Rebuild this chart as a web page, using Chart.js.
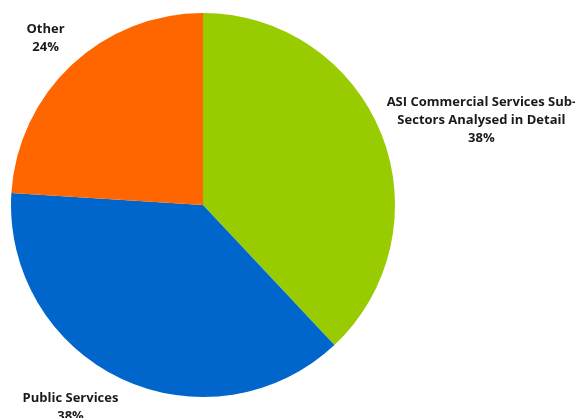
<!DOCTYPE html>
<html>
<head>
<meta charset="utf-8">
<script src="https://cdn.jsdelivr.net/npm/chart.js@4/dist/chart.umd.min.js"></script>
<style>
  html, body { margin: 0; padding: 0; background: #fff; }
  #wrap { width: 575px; height: 418px; position: relative; }
</style>
</head>
<body>
<div id="wrap"><canvas id="pie"></canvas></div>
<script>
'use strict';

const LABELS = [
  ['ASI Commercial Services Sub-', 'Sectors Analysed in Detail'],
  ['Public Services'],
  ['Other']
];
const VALUES = [38, 38, 24];
const COLORS = ['#99cc00', '#0066cc', '#ff6600'];

// where each label sits, relative to the pie centre (in radii)
const LABEL_POS = [
  { dx: 1.45, dy: -0.44 },
  { dx: -0.69, dy: 1.056 },
  { dx: -0.82, dy: -0.867 }
];

const labelPlugin = {
  id: 'sliceLabels',
  afterDraw(chart) {
    const ctx = chart.ctx;
    const arc = chart.getDatasetMeta(0).data[0];
    const cx = arc.x, cy = arc.y, r = arc.outerRadius;
    const lh = 18;
    ctx.save();
    ctx.font = 'bold 13px "Open Sans", sans-serif';
    ctx.fillStyle = '#1a1a1a';
    ctx.textAlign = 'center';
    ctx.textBaseline = 'middle';
    LABELS.forEach((lines, i) => {
      const all = lines.concat([VALUES[i] + '%']);
      const x = cx + LABEL_POS[i].dx * r;
      const y0 = cy + LABEL_POS[i].dy * r - (all.length - 1) * lh / 2;
      all.forEach((t, j) => ctx.fillText(t, x, y0 + j * lh));
    });
    ctx.restore();
  }
};

new Chart(document.getElementById('pie'), {
  type: 'pie',
  data: {
    labels: LABELS.map(l => l.join(' ')),
    datasets: [{
      data: VALUES,
      backgroundColor: COLORS,
      borderWidth: 0,
      hoverOffset: 0,
      offset: 0
    }]
  },
  options: {
    responsive: true,
    maintainAspectRatio: false,
    animation: false,
    layout: { padding: { left: 11, right: 180, top: 13, bottom: 21 } },
    plugins: {
      legend: { display: false },
      tooltip: { enabled: false }
    }
  },
  plugins: [labelPlugin]
});
</script>
</body>
</html>
